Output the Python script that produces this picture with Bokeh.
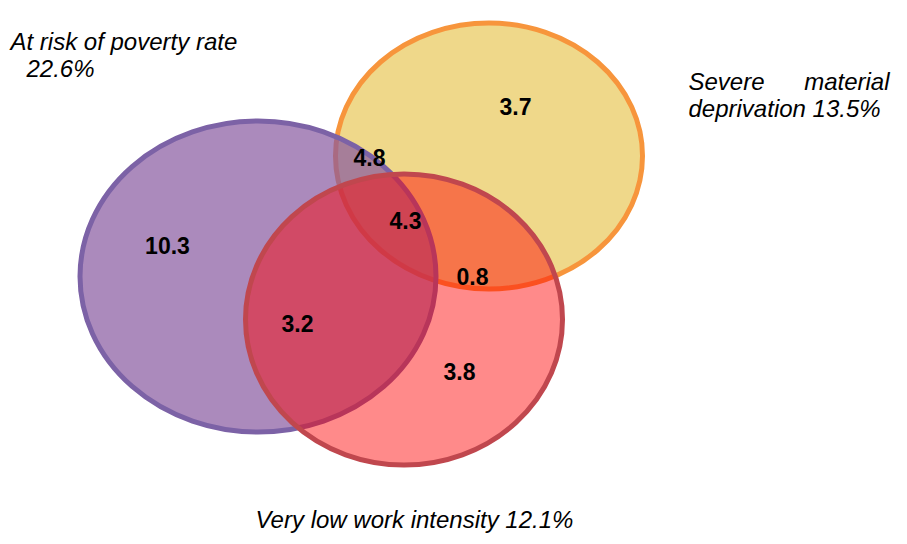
from bokeh.plotting import figure
from bokeh.models import Range1d, ColumnDataSource
from bokeh.core.properties import value
from bokeh.embed import file_html
from bokeh.resources import INLINE

# Sets (drawn in this order): centre x, centre y, width, height (screen-like units)
set_names = ["Severe material deprivation", "At risk of poverty rate", "Very low work intensity"]
set_x = [488.5, 257.5, 403.5]
set_y = [155.5, 276.0, 319.0]
set_w = [307, 356, 317]
set_h = [266, 311, 291]
set_fill = ["#ddab00", "#87599f", "#ff0000"]
set_alpha = [0.46, 0.70, 0.46]
set_line = ["#f7953c", "#7c62a6", "#c0474e"]

# Region values and their label anchors (text centres)
region_values = ["10.3", "4.8", "3.7", "4.3", "0.8", "3.2", "3.8"]
region_x = [167, 369, 515, 405, 472, 297, 459]
region_y = [245, 157, 106, 220, 276, 323, 371]

# Set labels (text centres)
label_texts = ["At risk of poverty rate", "22.6%", "Severe", "material",
               "deprivation 13.5%", "Very low work intensity 12.1%"]
label_x = [10, 26, 688, 889, 688, 255]
label_y = [41, 68, 81, 81, 108, 519]
label_align = ["left", "left", "left", "right", "left", "left"]

p = figure(width=891, height=536, output_backend="svg", toolbar_location=None,
           x_range=Range1d(0, 891), y_range=Range1d(536, 0),
           min_border=0, outline_line_color=None)
p.axis.visible = False
p.grid.visible = False

for i in range(len(set_names)):
    p.ellipse(x=[set_x[i]], y=[set_y[i]], width=[set_w[i]], height=[set_h[i]],
              fill_color=set_fill[i], fill_alpha=set_alpha[i],
              line_color=set_line[i], line_width=5)

p.text(x=region_x, y=region_y, text=region_values,
       text_font=value("Liberation Sans"), text_font_style="bold",
       text_font_size="23px", text_align="center", text_baseline="middle",
       text_color="black")

src = ColumnDataSource(dict(x=label_x, y=label_y, t=label_texts, a=label_align))
p.text(x="x", y="y", text="t", text_align="a", source=src,
       text_font=value("Liberation Sans"), text_font_style="italic",
       text_font_size="24px", text_baseline="middle", text_color="black")

open("out.html", "w").write(file_html(p, INLINE))
